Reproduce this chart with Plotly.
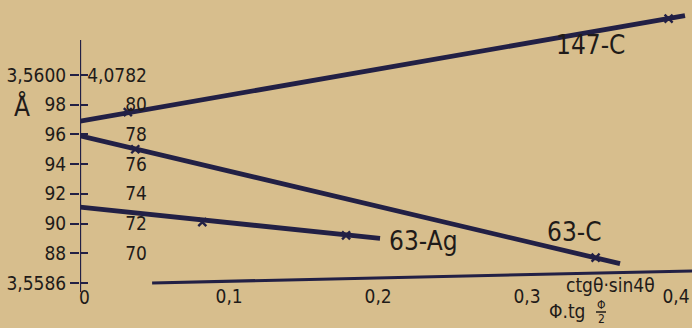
import plotly.graph_objects as go

# ---- data ----
# abscissa: ctg(theta)*sin(4 theta)  /  Phi*tg(Phi/2)
c147_line_x = [0.0, 0.406]
c147_line_y = [3.55969, 3.56040]
c147_pts_x = [0.032, 0.395]
c147_pts_y = [3.55975, 3.56038]

c63_line_x = [0.0, 0.3624]
c63_line_y = [3.55959, 3.55873]
c63_pts_x = [0.037, 0.346]
c63_pts_y = [3.55950, 3.55877]

ag63_line_x = [0.0, 0.2013]
ag63_line_y = [4.07731, 4.07710]
ag63_pts_x = [0.082, 0.1785]
ag63_pts_y = [4.07721, 4.07712]

x_ticks = [0.0, 0.1, 0.2, 0.3, 0.4]
x_ticklabels = ["0", "0,1", "0,2", "0,3", "0,4"]
y_ticks = [3.5586, 3.5588, 3.5590, 3.5592, 3.5594, 3.5596, 3.5598, 3.5600]
y_ticklabels = ["3,5586", "88", "90", "92", "94", "96", "98", "3,5600"]
y2_ticks = [4.0768, 4.0770, 4.0772, 4.0774, 4.0776, 4.0778, 4.0780, 4.0782]
y2_ticklabels = ["4,0768", "70", "72", "74", "76", "78", "80", "4,0782"]

BG = "#d7be8d"
INK = "#222045"
TXT = "#1f1b19"
FONT = "DejaVu Sans Condensed, Liberation Sans Narrow, DejaVu Sans"

OFFSET = 4.0768 - 3.5586
Y_RANGE = [3.558539, 3.560505]
Y2_RANGE = [Y_RANGE[0] + OFFSET, Y_RANGE[1] + OFFSET]
X_RANGE = [-0.0001, 0.4107]

W, H = 692, 328
L, R, T, B = 80, 0, 0, 36
PW, PH = W - L - R, H - T - B


def px(xp):
    return (xp - L) / PW


def py(yp):
    return (H - B - yp) / PH


# pad right-hand labels so they look right-aligned
pad = "\u2007\u2008\u2007\u2007"
y2_text = [t if "," in t else pad + t for t in y2_ticklabels]

fig = go.Figure()


def add_series(lx, ly, pxs, pys, yaxis):
    fig.add_trace(go.Scatter(x=lx, y=ly, mode="lines", yaxis=yaxis,
                             line=dict(color=INK, width=4.8), showlegend=False,
                             hoverinfo="skip"))
    fig.add_trace(go.Scatter(x=pxs, y=pys, mode="markers", yaxis=yaxis,
                             marker=dict(symbol="x-thin", size=8,
                                         line=dict(color=INK, width=2.4)),
                             showlegend=False, cliponaxis=False))


add_series(c147_line_x, c147_line_y, c147_pts_x, c147_pts_y, "y")
add_series(c63_line_x, c63_line_y, c63_pts_x, c63_pts_y, "y")
add_series(ag63_line_x, ag63_line_y, ag63_pts_x, ag63_pts_y, "y2")

# axis lines (scan slightly tilted)
fig.add_shape(type="line", xref="x", yref="y", x0=0, x1=0,
              y0=3.560236, y1=Y_RANGE[0], line=dict(color=INK, width=2))
fig.add_shape(type="line", xref="x", yref="y", x0=0.0483, x1=X_RANGE[1],
              y0=3.5586, y1=3.558681, line=dict(color=INK, width=3))

labels = [
    ("147-C", 590, 45, 26),
    ("63-C", 574, 232, 26),
    ("63-Ag", 423, 241, 26),
    ("Å", 22, 106, 26),
    ("ctgθ·sin4θ", 610, 285, 19),
    ("Φ.tg", 567, 311, 19),
    ("0", 84, 297, 19),
    ("Φ", 601, 305, 12),
    ("2", 601, 319, 12),
]
for text, xp, yp, size in labels:
    fig.add_annotation(text=text, x=px(xp), y=py(yp), xref="paper",
                       yref="paper", showarrow=False, xanchor="center",
                       yanchor="middle",
                       font=dict(family=FONT, size=size, color=TXT))
# fraction bar of Φ/2
fig.add_shape(type="line", xref="paper", yref="paper",
              x0=px(596), x1=px(606), y0=py(312), y1=py(312),
              line=dict(color=TXT, width=1.5))

fig.update_layout(
    width=W, height=H, autosize=False,
    margin=dict(l=L, r=R, t=T, b=B, pad=0, autoexpand=False),
    paper_bgcolor=BG, plot_bgcolor=BG,
    font=dict(family=FONT, color=TXT, size=19),
    xaxis=dict(range=X_RANGE, showgrid=False, zeroline=False, showline=False,
               tickvals=x_ticks[1:], ticktext=x_ticklabels[1:], ticks="",
               anchor="free", position=9 / PH, automargin=False,
               tickfont=dict(family=FONT, size=19, color=TXT)),
    yaxis=dict(range=Y_RANGE, showgrid=False, zeroline=False, showline=False,
               tickvals=y_ticks, ticktext=y_ticklabels, ticks="outside",
               ticklen=9, tickwidth=2, tickcolor=INK, automargin=False,
               tickfont=dict(family=FONT, size=19, color=TXT)),
    yaxis2=dict(range=Y2_RANGE, overlaying="y", side="left", anchor="x",
                showgrid=False, zeroline=False, showline=False,
                tickvals=y2_ticks, ticktext=y2_text, ticks="inside",
                ticklabelposition="inside", automargin=False,
                ticklen=8, tickwidth=2, tickcolor=INK,
                tickfont=dict(family=FONT, size=19, color=TXT)),
)

fig.write_html("out.html", config={"displayModeBar": False},
               post_script="document.body.style.margin='0px';"
                           "document.body.style.padding='0px';")
